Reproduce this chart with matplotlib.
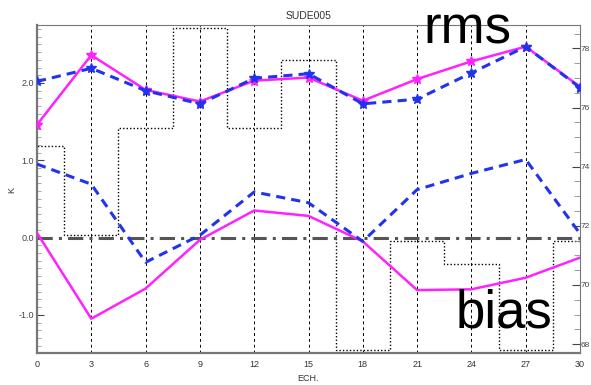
import numpy as np
import matplotlib.pyplot as plt
from matplotlib.ticker import MultipleLocator

# forecast range (hours)
ech = [0, 3, 6, 9, 12, 15, 18, 21, 24, 27, 30]

# rms and bias for the two runs (K)
rms_a = [1.46, 2.36, 1.91, 1.76, 2.03, 2.07, 1.77, 2.05, 2.28, 2.47, 1.95]
rms_b = [2.02, 2.19, 1.90, 1.73, 2.06, 2.12, 1.73, 1.79, 2.13, 2.47, 1.94]
bias_a = [0.06, -1.05, -0.66, -0.03, 0.35, 0.28, -0.05, -0.68, -0.67, -0.52, -0.26]
bias_b = [0.95, 0.69, -0.32, 0.03, 0.59, 0.45, -0.05, 0.62, 0.83, 1.01, 0.05]

# number of observations per range (right axis)
nobs = [74.7, 71.7, 75.3, 78.7, 75.3, 77.6, 67.8, 71.5, 70.7, 67.8, 71.5]

MAG = "#ff22ff"
BLU = "#2233ee"
small = "Liberation Sans"

fig = plt.figure(figsize=(5.91, 3.85), dpi=100)
ax = fig.add_axes([37 / 591, 1 - 352.7 / 385, 543 / 591, 327.7 / 385])
ax2 = ax.twinx()
ax.set_zorder(ax2.get_zorder() + 1)
ax.patch.set_visible(False)

# step histogram of observation counts, one bin per range
edges = np.array(ech + [33]) - 1.5
ax2.stairs(nobs, edges, color="black", ls=(0, (1, 1.5)), lw=1.0)
ax2.set_ylim(67.71, 78.79)
ax2.yaxis.set_major_locator(MultipleLocator(2))
ax2.yaxis.set_minor_locator(MultipleLocator(0.5))
ax2.tick_params(axis="y", which="major", labelsize=6, length=6, direction="in",
                colors="#444444", pad=0.5)
ax2.tick_params(axis="y", which="minor", length=4, direction="in", colors="#888888")
for lab in ax2.get_yticklabels():
    lab.set_family(small)

for x in ech:
    ax.axvline(x, color="black", ls=(0, (3, 3)), lw=0.7, zorder=1)
ax.axhline(0, color="#555555", ls=(0, (5, 2, 1, 2)), lw=2.2, zorder=2)

ax.plot(ech, rms_a, color=MAG, lw=1.8, marker="*", ms=7, zorder=4)
ax.plot(ech, rms_b, color=BLU, lw=2.2, ls=(0, (3, 2)), marker="*", ms=7, zorder=5)
ax.plot(ech, bias_a, color=MAG, lw=1.8, zorder=4)
ax.plot(ech, bias_b, color=BLU, lw=2.2, ls=(0, (3, 2)), zorder=5)

ax.set_xlim(0, 30)
ax.set_ylim(-1.49, 2.75)
ax.set_xticks(ech)
ax.yaxis.set_major_locator(MultipleLocator(1.0))
ax.yaxis.set_minor_locator(MultipleLocator(0.1))
ax.set_yticks([-1.0, 0.0, 1.0, 2.0])
ax.set_yticklabels(["-1.0", "0.0", "1.0", "2.0"])
ax.tick_params(axis="x", labelsize=6.5, length=0, pad=5, colors="#333333")
ax.tick_params(axis="y", which="major", labelsize=6.5, length=5, direction="in",
               colors="#444444", pad=2)
ax.tick_params(axis="y", which="minor", length=3, direction="in", colors="#999999")
for lab in ax.get_xticklabels() + ax.get_yticklabels():
    lab.set_family(small)

for s in ["left", "bottom"]:
    ax.spines[s].set_linewidth(1.6)
    ax.spines[s].set_color("#777777")
for s in ["top", "right"]:
    ax.spines[s].set_linewidth(0.8)
    ax.spines[s].set_color("#777777")
for s in ax2.spines.values():
    s.set_visible(False)

ax.set_title("SUDE005", fontsize=7.5, family=small, color="#333333", pad=4)
fig.text(297 / 591, 1 - 381 / 385, "ECH.", fontsize=6.5, family=small, color="#333333")
fig.text(12 / 591, 1 - 190 / 385, "K", fontsize=6.5, rotation=90, va="center",
         ha="center", family=small, color="#333333")

fig.text(423 / 591, 1 - 43 / 385, "rms", fontsize=38, family="Liberation Sans",
         va="baseline")
fig.text(456 / 591, 1 - 328 / 385, "bias", fontsize=38, family="Liberation Sans",
         va="baseline")

fig.savefig("out.png", dpi=100)
